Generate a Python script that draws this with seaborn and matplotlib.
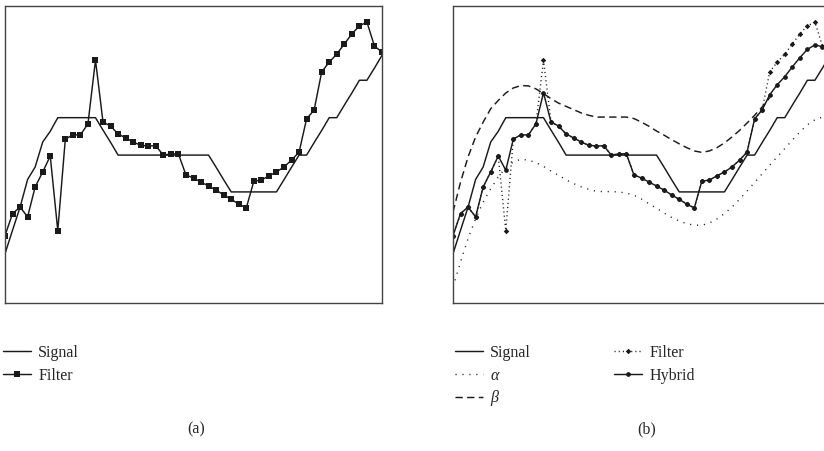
import numpy as np
import matplotlib
matplotlib.use("Agg")
import matplotlib.pyplot as plt
import seaborn as sns

# %% Data (y in 0-100 units of the frame height)
idx = np.arange(51)

signal = [16.6, 24.5, 32.3, 41.6, 45.8, 54.2, 57.8, 62.4, 62.4, 62.4, 62.4, 62.4, 62.4,
          58.2, 54.1, 49.8, 49.8, 49.8, 49.8, 49.8, 49.8, 49.8, 49.8, 49.8, 49.8, 49.8,
          49.8, 49.8, 45.7, 41.5, 37.4, 37.4, 37.4, 37.4, 37.4, 37.4, 37.4, 41.5, 45.7,
          49.8, 49.8, 54.0, 58.1, 62.4, 62.4, 66.6, 70.7, 75.0, 75.0, 79.1, 83.4]

filt = [22.7, 30.1, 32.3, 29.0, 39.1, 44.1, 49.5, 24.4, 55.2, 56.6, 56.6, 60.3, 81.8,
        60.9, 59.6, 56.9, 55.6, 54.2, 53.1, 52.9, 52.9, 49.8, 50.2, 50.2, 43.1, 42.1,
        40.7, 39.4, 38.0, 36.4, 34.9, 33.3, 32.0, 41.0, 41.4, 42.8, 44.1, 45.8, 48.1,
        50.8, 62.0, 65.0, 77.8, 81.1, 83.8, 87.2, 90.6, 93.3, 94.6, 86.5, 84.5]

hybrid = [22.7, 30.1, 32.3, 29.0, 39.1, 44.1, 49.5, 44.7, 55.2, 56.6, 56.6, 60.3, 70.8,
          60.9, 59.6, 56.9, 55.6, 54.2, 53.1, 52.9, 52.9, 49.8, 50.2, 50.2, 43.1, 42.1,
          40.7, 39.4, 38.0, 36.4, 34.9, 33.3, 32.0, 41.0, 41.4, 42.8, 44.1, 45.8, 48.1,
          50.8, 62.0, 65.0, 70.1, 73.5, 76.2, 79.5, 82.6, 85.4, 86.9, 86.3, 86.0]

alpha = [5.4, 13.8, 21.7, 28.4, 34.0, 38.5, 42.4, 45.6, 47.5, 48.4, 48.1, 47.3, 46.0,
         44.4, 43.0, 41.5, 40.2, 39.1, 38.3, 37.6, 37.5, 37.5, 37.4, 37.0, 36.3, 35.0,
         33.4, 31.9, 30.3, 28.8, 27.6, 26.7, 26.2, 26.2, 26.9, 28.3, 30.1, 32.3, 34.9,
         37.7, 40.6, 43.5, 46.4, 49.2, 52.0, 54.8, 57.6, 60.0, 61.7, 62.6, 62.8]

beta_idx = np.arange(43)
beta = [30.6, 40.7, 49.2, 55.9, 60.9, 65.4, 68.2, 70.7, 72.4, 73.2, 73.1, 72.1, 70.5,
        68.8, 67.3, 66.2, 65.1, 64.0, 63.2, 62.6, 62.6, 62.6, 62.6, 62.6, 62.1, 60.9,
        59.5, 57.9, 56.5, 55.0, 53.6, 52.3, 51.2, 50.7, 51.2, 52.3, 53.9, 55.9, 58.1,
        60.6, 63.2, 66.0, 69.1]

# %% Style
sns.set_style("white")
plt.rcParams["font.family"] = ["Liberation Serif", "DejaVu Serif"]

ink = "#1a1a1a"
lw = 1.05

fig = plt.figure(figsize=(8.24, 4.51), dpi=100)
ax_a = fig.add_axes([5 / 824, 148 / 451, 377 / 824, 297 / 451])
ax_b = fig.add_axes([453 / 824, 148 / 451, 377 / 824, 297 / 451])

for ax in (ax_a, ax_b):
    ax.set_xlim(0, 50)
    ax.set_ylim(0, 100)
    ax.set_xticks([])
    ax.set_yticks([])
    for sp in ax.spines.values():
        sp.set_color("#444444")
        sp.set_linewidth(1.0)

# %% Panel (a)
sns.lineplot(x=idx, y=signal, ax=ax_a, color=ink, lw=lw, label="Signal")
sns.lineplot(x=idx, y=filt, ax=ax_a, color=ink, lw=lw, marker="s", markersize=4.6,
             markeredgewidth=0, label="Filter")

# %% Panel (b)
sns.lineplot(x=idx, y=signal, ax=ax_b, color=ink, lw=lw, label="Signal")
sns.lineplot(x=idx, y=alpha, ax=ax_b, color=ink, lw=1.0, linestyle=(0, (0.8, 4.2)),
             label="α")
sns.lineplot(x=beta_idx, y=beta, ax=ax_b, color=ink, lw=lw, linestyle=(0, (5, 3)),
             label="β")
sns.lineplot(x=idx, y=filt, ax=ax_b, color=ink, lw=1.0, linestyle=(0, (0.8, 2.2)),
             marker="D", markersize=2.8, markeredgewidth=0, label="Filter")
sns.lineplot(x=idx, y=hybrid, ax=ax_b, color=ink, lw=lw, marker="o", markersize=3.4,
             markeredgewidth=0, label="Hybrid")

leg_kw = dict(loc="upper left", bbox_transform=fig.transFigure, frameon=False,
              borderpad=0, borderaxespad=0, handlelength=1.75, handletextpad=0.45,
              labelspacing=0.42, fontsize=11.5)

h, l = ax_a.get_legend_handles_labels()
ax_a.legend(h, l, bbox_to_anchor=(3 / 824, 1 - 345 / 451), **leg_kw)

h, l = ax_b.get_legend_handles_labels()
leg_b = ax_b.legend(h, l, ncol=2, columnspacing=5.2,
                    bbox_to_anchor=(455 / 824, 1 - 345 / 451), **leg_kw)
for t in leg_b.get_texts():
    if t.get_text() in ("α", "β"):
        t.set_style("italic")

fig.text(196 / 824, 1 - 429 / 451, "(a)", ha="center", va="center", fontsize=11.5)
fig.text(647 / 824, 1 - 429 / 451, "(b)", ha="center", va="center", fontsize=11.5)

fig.savefig("out.png", dpi=100)
